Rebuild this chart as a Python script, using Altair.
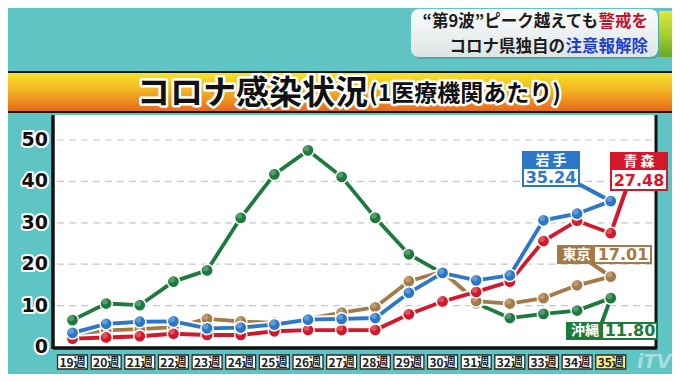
import altair as alt
import pandas as pd

# ---- data ----
weeks = list(range(19, 36))
week_labels = [f"{w}週" for w in weeks]
okinawa = [6.5, 10.5, 10.1, 15.8, 18.5, 31.2, 41.7, 47.5, 41.1, 31.2, 22.4, 17.8, 10.6, 7.0, 8.0, 8.8, 11.80]
tokyo = [3.0, 4.0, 4.3, 4.8, 6.8, 6.2, 5.8, 6.8, 8.3, 9.6, 15.9, 18.2, 11.1, 10.5, 11.8, 14.9, 17.01]
aomori = [2.0, 2.3, 2.6, 3.2, 2.9, 2.9, 3.8, 4.1, 4.1, 4.1, 7.9, 11.0, 13.3, 15.8, 25.6, 30.5, 27.48]
iwate = [3.4, 5.6, 6.1, 6.2, 4.5, 4.7, 5.4, 6.6, 6.8, 7.0, 13.1, 17.9, 16.1, 17.3, 30.6, 32.2, 35.24]
y_ticks = [0, 10, 20, 30, 40, 50]
series_names = ["沖縄", "東京", "青森", "岩手"]
title_main = "コロナ感染状況"
title_sub = "(1医療機関あたり)"
head1_black, head1_red = "“第9波”ピーク越えても", "警戒を"
head2_black, head2_blue = "コロナ県独自の", "注意報解除"

# ---- styles ----
C_OKI, C_TOK, C_AOM, C_IWA = "#1f7a3d", "#a47a48", "#d3182b", "#2c78c6"
JP = "Noto Sans CJK JP"
NUM = "DejaVu Sans"

xs = alt.Scale(domain=[18.42, 36.345], nice=False, zero=False)
ys = alt.Scale(domain=[0, 56.04], nice=False, zero=False)
X = alt.X("week:Q", scale=xs, axis=None)
Y = alt.Y("value:Q", scale=ys, axis=None)

one = pd.DataFrame({"a": [0]})


def box(x1, x2, y1, y2, **kw):
    return alt.Chart(one).mark_rect(**kw).encode(
        x=alt.value(x1), x2=alt.value(x2), y=alt.value(y1), y2=alt.value(y2))


def label(text, x, y, outline=None, **kw):
    out = []
    if outline:
        out.append(alt.Chart(one).mark_text(text=text, stroke=outline[0], strokeWidth=outline[1],
                                            strokeJoin="round", **kw)
                   .encode(x=alt.value(x), y=alt.value(y)))
    out.append(alt.Chart(one).mark_text(text=text, **kw).encode(x=alt.value(x), y=alt.value(y)))
    return out


layers = []

# header box (top right)
hdr_grad = alt.LinearGradient(gradient="linear", x1=0, x2=0, y1=0, y2=1,
                              stops=[alt.GradientStop(color="#fbfcfc", offset=0),
                                     alt.GradientStop(color="#dde4e4", offset=1)])
strip_grad = alt.LinearGradient(gradient="linear", x1=0, x2=0, y1=0, y2=1,
                                stops=[alt.GradientStop(color="#dfe838", offset=0),
                                       alt.GradientStop(color="#a8d030", offset=0.5),
                                       alt.GradientStop(color="#6aa828", offset=1)])
layers.append(box(361, 607, -104, -56, color="#3a8c8c", cornerRadius=8, opacity=0.5))
layers.append(box(358, 605, -106, -58, color=hdr_grad, cornerRadius=8))
layers.append(box(606, 619, -104, -58, color=strip_grad))
layers += label(head1_black, 545, -93, fontSize=16.5, font=JP, fontWeight="bold", color="#1c1c1c", align="right", baseline="middle")
layers += label(head1_red, 595, -93, fontSize=16.5, font=JP, fontWeight="bold", color="#c8102e", align="right", baseline="middle")
layers += label(head2_black, 512, -68, fontSize=16.5, font=JP, fontWeight="bold", color="#1c1c1c", align="right", baseline="middle")
layers += label(head2_blue, 595, -68, fontSize=16.5, font=JP, fontWeight="bold", color="#1f3fd0", align="right", baseline="middle")

# orange title bar
bar_grad = alt.LinearGradient(gradient="linear", x1=0, x2=0, y1=0, y2=1,
                              stops=[alt.GradientStop(color="#f6e62a", offset=0),
                                     alt.GradientStop(color="#f2b424", offset=0.45),
                                     alt.GradientStop(color="#e6661a", offset=1)])
layers.append(box(-46, 620, -43, -3, color=bar_grad, stroke="#1a1a1a", strokeWidth=2))
layers += label(title_main, 84, -21, outline=("white", 5), fontSize=33, font=JP, fontWeight="bold", color="#111111", align="left", baseline="middle")
layers += label(title_sub, 316, -21, outline=("white", 5), fontSize=23, font=JP, fontWeight="bold", color="#111111", align="left", baseline="middle")

# gridlines
grid_df = pd.DataFrame({"value": y_ticks[1:]})
layers.append(alt.Chart(grid_df).mark_rule(color="#c8c8c8", strokeWidth=1.2, strokeDash=[7, 5])
              .encode(y=Y, x=alt.value(4), x2=alt.value(600)))

# y-axis labels
yl_df = pd.DataFrame({"value": y_ticks, "lab": [str(v) for v in y_ticks]})
for kw in [dict(stroke="white", strokeWidth=4, strokeJoin="round"), dict()]:
    layers.append(alt.Chart(yl_df).mark_text(align="right", baseline="middle", fontSize=19, font=NUM,
                                             fontWeight="bold", color="#111111", **kw)
                  .encode(y=Y, x=alt.value(-5), text="lab:N"))

# x-axis label boxes
xl_df = pd.DataFrame({"week": weeks, "lab": week_labels,
                      "fillc": ["white"] * (len(weeks) - 1) + ["#f3ef86"]})
xl = alt.Chart(xl_df).transform_calculate(w1="datum.week - 0.445", w2="datum.week + 0.445")
layers.append(xl.mark_rect(stroke="#2a2a2a", strokeWidth=1.3).encode(
    x=alt.X("w1:Q", scale=xs, axis=None), x2="w2:Q",
    y=alt.value(240), y2=alt.value(254), fill=alt.Fill("fillc:N", scale=None)))
layers.append(alt.Chart(xl_df).mark_text(fontSize=12, font=JP, fontWeight="bold", color="#222222",
                                         baseline="middle").encode(x=X, y=alt.value(247.5), text="lab:N"))


# callout pointers (drawn beneath the series)
def callout_pointer(vals, col, px, py):
    d = pd.DataFrame({"week": [weeks[-1]], "value": [vals[-1]]})
    return [alt.Chart(d).mark_rule(color="white", strokeWidth=7, strokeCap="round").encode(
                x=X, y=Y, x2=alt.value(px), y2=alt.value(py)),
            alt.Chart(d).mark_rule(color=col, strokeWidth=4, strokeCap="round").encode(
                x=X, y=Y, x2=alt.value(px), y2=alt.value(py))]


layers += callout_pointer(iwate, C_IWA, 520, 66)
layers += callout_pointer(aomori, C_AOM, 574, 72)
layers += callout_pointer(tokyo, C_TOK, 535, 146)
layers += callout_pointer(okinawa, C_OKI, 548, 210)

# series lines
series = [(okinawa, C_OKI), (tokyo, C_TOK), (aomori, C_AOM), (iwate, C_IWA)]
for vals, col in series:
    df = pd.DataFrame({"week": weeks, "value": vals})
    base = alt.Chart(df).encode(x=X, y=Y)
    layers.append(base.mark_line(color="white", strokeWidth=8, opacity=0.9))
    layers.append(base.mark_line(color=col, strokeWidth=3.8))
    layers.append(base.mark_circle(size=150, color=col, opacity=1, stroke="white", strokeWidth=1.5))
    layers.append(base.mark_circle(size=35, color="white", opacity=0.25).encode(
        xOffset=alt.value(-1.5), yOffset=alt.value(-2)))

# plot frame
layers.append(alt.Chart(one).mark_rule(color="#111111", strokeWidth=3.5).encode(
    x=alt.value(0), y=alt.value(0), y2=alt.value(234)))
layers.append(alt.Chart(one).mark_rule(color="#111111", strokeWidth=3.5).encode(
    x=alt.value(0), x2=alt.value(604), y=alt.value(233)))
layers.append(alt.Chart(one).mark_rule(color="#111111", strokeWidth=3).encode(
    x=alt.value(603), y=alt.value(0), y2=alt.value(234)))

# callout boxes
# 岩手 (stacked)
layers.append(box(469, 527, 36, 72, color="white"))
layers.append(box(470, 526, 37, 71, fill="white", stroke=C_IWA, strokeWidth=2))
layers.append(box(470, 526, 37, 54, color=C_IWA))
layers += label("岩 手", 498, 45.5, fontSize=14, font=JP, fontWeight="bold", color="white", baseline="middle")
layers += label(f"{iwate[-1]:.2f}", 498, 63, fontSize=16, font=NUM, fontWeight="bold", color=C_IWA, baseline="middle")

# 青森 (stacked)
layers.append(box(557, 615, 37, 76, color="white"))
layers.append(box(558, 614, 38, 75, fill="white", stroke=C_AOM, strokeWidth=2))
layers.append(box(558, 614, 38, 55, color=C_AOM))
layers += label("青 森", 586, 46.5, fontSize=14, font=JP, fontWeight="bold", color="white", baseline="middle")
layers += label(f"{aomori[-1]:.2f}", 586, 65.5, fontSize=16, font=NUM, fontWeight="bold", color=C_AOM, baseline="middle")

# 東京 (side by side)
layers.append(box(504, 599, 130, 149, color="white"))
layers.append(box(505, 598, 131, 148, fill="white", stroke=C_TOK, strokeWidth=2))
layers.append(box(505, 542, 131, 148, color=C_TOK))
layers += label("東京", 523.5, 139.5, fontSize=14, font=JP, fontWeight="bold", color="white", baseline="middle")
layers += label(f"{tokyo[-1]:.2f}", 570, 139.5, fontSize=16, font=NUM, fontWeight="bold", color=C_TOK, baseline="middle")

# 沖縄 (side by side)
layers.append(box(513, 605, 207, 225, color="white"))
layers.append(box(514, 604, 208, 224, fill="white", stroke=C_OKI, strokeWidth=2))
layers.append(box(514, 550, 208, 224, color=C_OKI))
layers += label("沖縄", 532, 216, fontSize=14, font=JP, fontWeight="bold", color="white", baseline="middle")
layers += label(f"{okinawa[-1]:.2f}", 577, 216, fontSize=16, font=NUM, fontWeight="bold", color=C_OKI, baseline="middle")

# watermark
layers += label("iTV", 601, 247, fontSize=19, font=NUM, fontWeight="bold", fontStyle="italic",
                color="white", opacity=0.45, baseline="middle")

chart = alt.layer(*layers).properties(
    width=603, height=232,
    autosize=alt.AutoSizeParams(type="none"),
    padding={"left": 45, "top": 107, "right": 16, "bottom": 27},
    background="#5fc4c4",
).configure_view(strokeWidth=0, fill="white")

chart.save("out.html", embed_options={"renderer": "svg", "actions": False})
